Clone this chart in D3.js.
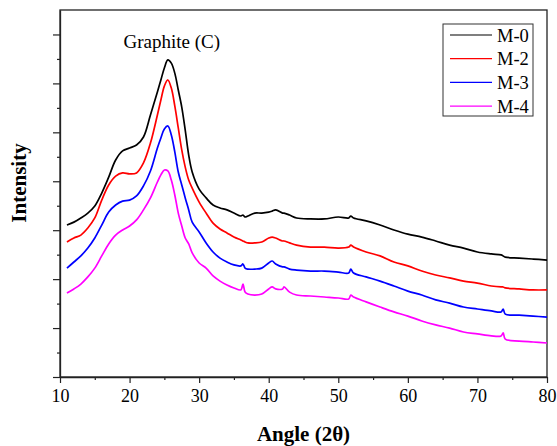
<!DOCTYPE html>
<html>
<head>
<meta charset="utf-8">
<script src="https://d3js.org/d3.v7.min.js"></script>
<style>
  body { margin: 0; background: #fff; }
  text { font-family: "Liberation Serif", "Times New Roman", serif; fill: #000; }
</style>
</head>
<body>
<div id="chart"></div>
<script>
// 2-theta positions shared by all patterns
var angles = [11, 12, 13, 14, 15, 16, 17, 18, 19, 20, 21, 22, 23, 24, 24.5, 25, 25.5, 26, 26.5, 27, 27.5, 28, 28.5, 29,
  30, 31, 32, 33, 34, 35, 36, 36.3, 36.6, 37, 38, 39, 40, 40.5, 41, 42, 42.2, 43, 44, 46, 48, 50, 51.5, 51.8, 52.2,
  54, 56, 58, 60, 62, 64, 66, 68, 70, 72, 73.4, 73.7, 74, 76, 78, 80];

// intensities (arb. units)
var m0 = [621, 633, 650, 670, 699, 752, 817, 887, 924, 936, 948, 981, 1071, 1165, 1214, 1263, 1296, 1283, 1242, 1173,
  1103, 1009, 907, 838, 768, 732, 703, 691, 683, 670, 658, 662, 654, 658, 670, 670, 674, 678, 683, 670, 670, 662, 650,
  646, 646, 654, 650, 658, 650, 638, 621, 601, 584, 572, 556, 539, 527, 511, 503, 499, 495, 490, 486, 482, 478];
var m2 = [552, 568, 580, 609, 650, 723, 785, 821, 834, 830, 834, 875, 956, 1071, 1132, 1189, 1214, 1181, 1108, 1018,
  928, 858, 805, 772, 715, 670, 629, 605, 589, 572, 560, 556, 552, 548, 548, 552, 568, 572, 568, 556, 556, 548, 539,
  531, 531, 527, 531, 539, 531, 511, 495, 470, 454, 433, 417, 405, 392, 384, 372, 368, 368, 364, 360, 356, 356];
var m3 = [445, 470, 495, 527, 568, 621, 674, 703, 719, 723, 740, 781, 842, 936, 977, 1014, 1026, 989, 920, 838,
  785, 732, 683, 633, 593, 548, 511, 486, 470, 458, 454, 462, 445, 441, 441, 445, 466, 474, 462, 450, 450, 441, 437,
  433, 433, 429, 425, 441, 425, 409, 392, 372, 351, 335, 315, 302, 286, 278, 270, 266, 278, 257, 253, 249, 245];
var m4 = [343, 360, 380, 409, 445, 495, 544, 580, 601, 617, 642, 683, 732, 797, 826, 846, 842, 805, 744, 670,
  617, 568, 544, 507, 466, 445, 413, 392, 376, 364, 356, 380, 347, 339, 335, 339, 360, 368, 360, 360, 368, 347, 335,
  331, 327, 323, 319, 335, 327, 307, 286, 266, 249, 229, 213, 200, 184, 176, 168, 168, 180, 155, 147, 143, 139];

var seriesNames = ["M-0", "M-2", "M-3", "M-4"];
var seriesColors = ["#000000", "#ff0000", "#0000ff", "#ff00ff"];
var seriesValues = [m0, m2, m3, m4];

var xTicks = [10, 20, 30, 40, 50, 60, 70, 80];
var xMinor = [15, 25, 35, 45, 55, 65, 75];
var yTicks = [0, 200, 400, 600, 800, 1000, 1200, 1400];
var yMinor = [100, 300, 500, 700, 900, 1100, 1300];

var width = 557, height = 446;
var margin = {top: 10, right: 10, bottom: 69, left: 60};
var w = width - margin.left - margin.right;
var h = height - margin.top - margin.bottom;

var svg = d3.select("#chart").append("svg")
    .attr("width", width).attr("height", height);
var g = svg.append("g").attr("transform", "translate(" + margin.left + "," + margin.top + ")");

var x = d3.scaleLinear().domain([10, 80]).range([0, w]);
var y = d3.scaleLinear().domain([0, 1500]).range([h, 0]);

// frame
g.append("rect").attr("x", 0).attr("y", 0).attr("width", w).attr("height", h)
  .attr("fill", "none").attr("stroke", "#222").attr("stroke-width", 1.3);

// axes
var xAxis = g.append("g").attr("transform", "translate(0," + h + ")")
  .call(d3.axisBottom(x).tickValues(xTicks).tickSize(6).tickSizeOuter(0).tickFormat(d3.format("d")));
g.append("g").attr("transform", "translate(0," + h + ")")
  .call(d3.axisBottom(x).tickValues(xMinor).tickSize(3).tickSizeOuter(0).tickFormat(""))
  .select(".domain").remove();
g.append("g").call(d3.axisLeft(y).tickValues(yTicks).tickSize(7).tickSizeOuter(0).tickFormat(""));
g.append("g").call(d3.axisLeft(y).tickValues(yMinor).tickSize(3).tickSizeOuter(0).tickFormat(""))
  .select(".domain").remove();

g.selectAll(".domain").attr("stroke", "#222").attr("stroke-width", 1.3);
g.selectAll(".tick line").attr("stroke", "#222").attr("stroke-width", 1.2);
xAxis.selectAll("text")
  .attr("dy", null).attr("y", 25)
  .style("font-family", "Liberation Serif").style("font-size", "18px");

// axis titles
svg.append("text").attr("x", margin.left + w / 2).attr("y", 441)
  .attr("text-anchor", "middle").style("font-size", "21px").style("font-weight", "bold")
  .text("Angle (2\u03b8)");
svg.append("text").attr("transform", "translate(26,183) rotate(-90)")
  .attr("text-anchor", "middle").style("font-size", "21px").style("font-weight", "bold")
  .text("Intensity");

// patterns
var line = d3.line()
  .curve(d3.curveCatmullRom.alpha(0.5))
  .x(function(d) { return x(d[0]); })
  .y(function(d) { return y(d[1]); });
seriesValues.forEach(function(vals, i) {
  g.append("path")
    .datum(angles.map(function(a, k) { return [a, vals[k]]; }))
    .attr("fill", "none")
    .attr("stroke", seriesColors[i])
    .attr("stroke-width", 1.7)
    .attr("stroke-linejoin", "round")
    .attr("d", line);
});

// peak label
g.append("text").attr("x", x(25.5) + 4).attr("y", 38)
  .attr("text-anchor", "middle").style("font-size", "19px")
  .text("Graphite (C)");

// legend
var lg = svg.append("g").attr("transform", "translate(443,24)");
lg.append("rect").attr("width", 90).attr("height", 92)
  .attr("fill", "#fff").attr("stroke", "#333").attr("stroke-width", 1);
seriesNames.forEach(function(name, i) {
  var yy = 11 + i * 23.7;
  lg.append("line").attr("x1", 7).attr("x2", 49).attr("y1", yy).attr("y2", yy)
    .attr("stroke", seriesColors[i]).attr("stroke-width", 1.2);
  lg.append("text").attr("x", 54).attr("y", yy + 6.5)
    .style("font-size", "18.5px").text(name);
});
</script>
</body>
</html>
